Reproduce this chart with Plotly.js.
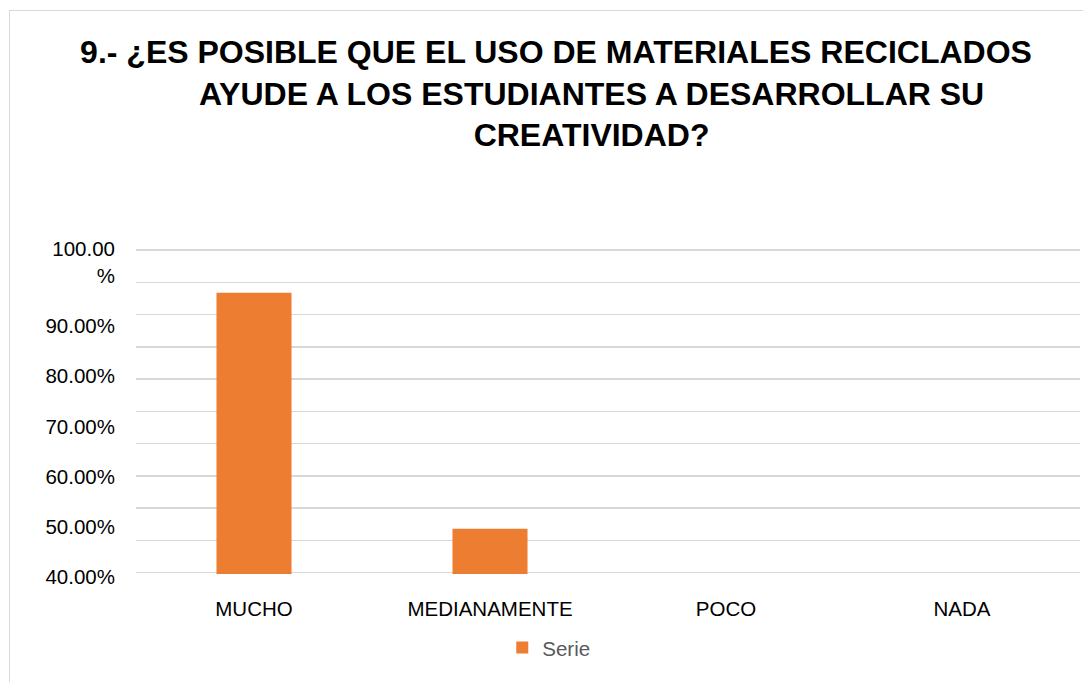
<!DOCTYPE html>
<html><head><meta charset="utf-8">
<script src="https://cdn.plot.ly/plotly-3.0.1.min.js"></script>
<style>
html,body{margin:0;padding:0;background:#fff;width:1083px;height:682px;overflow:hidden;}
#frame{position:absolute;left:9px;top:10px;width:1100px;height:700px;border-left:1.5px solid #d9d9d9;border-top:1.5px solid #d9d9d9;}
#chart{position:absolute;left:0;top:0;width:1083px;height:662px;overflow:hidden;}
</style></head><body>
<div id="frame"></div><div id="chart"></div>
<script>
const categories = ['MUCHO', 'MEDIANAMENTE', 'POCO', 'NADA'];
const values = [0.966, 0.496, 0, 0];
const seriesName = 'Serie';
const yTickValues = [0.4, 0.5, 0.6, 0.7, 0.8, 0.9, 1.0];
const yTickLabels = ['40.00%', '50.00%', '60.00%', '70.00%', '80.00%', '90.00%', '100.00<br>%<br>\u00a0'];
const pad = '&nbsp;'.repeat(8);
const titleLines = [
  '9.- ¿ES POSIBLE QUE EL USO DE MATERIALES RECICLADOS',
  pad + 'AYUDE A LOS ESTUDIANTES A DESARROLLAR SU',
  pad + 'CREATIVIDAD?'
];

const tickFont = {family: 'Liberation Sans, Arial, sans-serif', size: 20.5, color: '#000000'};

const traces = [
  {type: 'scatter', x: [], y: [], xaxis: 'x', yaxis: 'y', showlegend: false, hoverinfo: 'skip'},
  {type: 'scatter', x: [], y: [], xaxis: 'x', yaxis: 'y2', showlegend: false, hoverinfo: 'skip'},
  {type: 'bar', name: seriesName, x: categories, y: values, xaxis: 'x', yaxis: 'y3',
   marker: {color: '#ED7D31'}, showlegend: true}
];

const layout = {
  width: 1083, height: 662,
  paper_bgcolor: 'rgba(0,0,0,0)', plot_bgcolor: 'rgba(0,0,0,0)',
  margin: {l: 136, r: 3, t: 248, b: 88, autoexpand: false},
  title: {
    text: titleLines.join('<br>'),
    font: {family: 'Liberation Sans, Arial, sans-serif', size: 32, weight: 700, color: '#000000'},
    xref: 'container', yref: 'container', x: 0.5134, xanchor: 'center', y: 0.9045, yanchor: 'middle'
  },
  bargap: 0.682,
  showlegend: true,
  legend: {orientation: 'h', x: 0.388, xanchor: 'left', y: -0.165, yanchor: 'top',
    font: {family: 'Liberation Sans, Arial, sans-serif', size: 20.5, color: '#595959'}, bgcolor: 'rgba(0,0,0,0)'},
  xaxis: {type: 'category', categoryorder: 'array', categoryarray: categories, range: [-0.5, 3.5],
    showgrid: false, zeroline: false, showline: false, ticks: '', tickfont: tickFont, ticklabelstandoff: 20},
  yaxis: {range: [0.39758, 1.00372], tickmode: 'linear', tick0: 0.4, dtick: 0.06, showticklabels: false,
    showgrid: true, gridcolor: '#d9d9d9', gridwidth: 1.5, zeroline: false, showline: false, ticks: ''},
  yaxis2: {overlaying: 'y', side: 'left', range: [0.39004, 1.03944], tickmode: 'array',
    tickvals: yTickValues, ticktext: yTickLabels, showgrid: false, zeroline: false, showline: false,
    ticks: '', tickfont: tickFont, ticklabelstandoff: 20, ticklabelshift: 8},
  yaxis3: {overlaying: 'y', side: 'left', range: [0.40598, 1.05538], showticklabels: false,
    showgrid: false, zeroline: false, showline: false, ticks: ''}
};

Plotly.newPlot('chart', traces, layout, {displayModeBar: false, staticPlot: true});
</script>
</body></html>
